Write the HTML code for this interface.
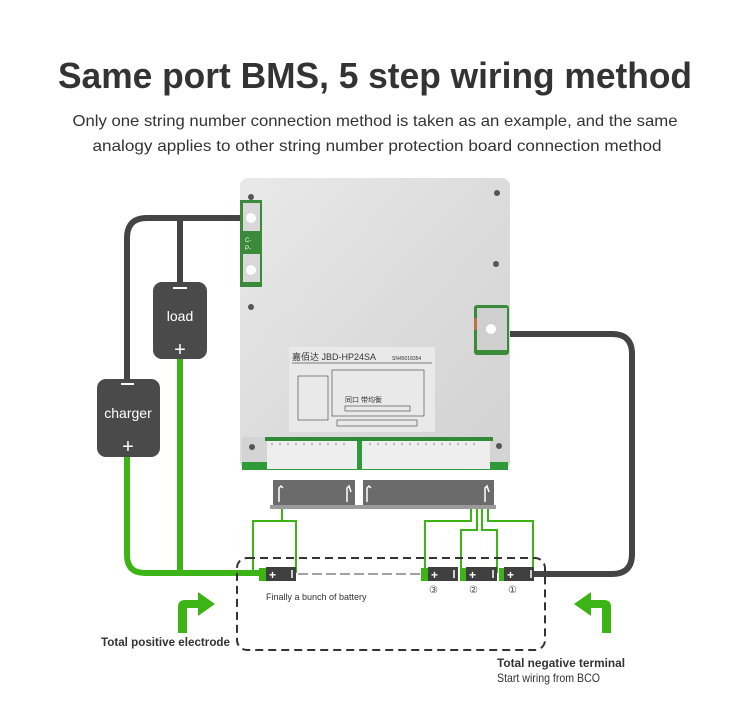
<!DOCTYPE html>
<html><head><meta charset="utf-8"><style>
html,body{margin:0;padding:0;background:#fff;}
svg{display:block;}
text{font-family:"Liberation Sans",sans-serif;}
</style></head><body>
<svg width="750" height="703" viewBox="0 0 750 703" xmlns="http://www.w3.org/2000/svg">
<defs>
<linearGradient id="al" x1="0" y1="0" x2="1" y2="1">
<stop offset="0" stop-color="#e9e9e9"/><stop offset="0.5" stop-color="#dcdcdc"/><stop offset="1" stop-color="#d2d2d2"/>
</linearGradient>
</defs>
<text x="375" y="88" text-anchor="middle" font-size="36" font-weight="bold" fill="#333" textLength="634" lengthAdjust="spacingAndGlyphs">Same port BMS, 5 step wiring method</text>
<text x="375" y="126" text-anchor="middle" font-size="16" fill="#333" textLength="605" lengthAdjust="spacingAndGlyphs">Only one string number connection method is taken as an example, and the same</text>
<text x="377" y="151" text-anchor="middle" font-size="16" fill="#333" textLength="569" lengthAdjust="spacingAndGlyphs">analogy applies to other string number protection board connection method</text>

<path d="M255,218 H147 Q127,218 127,238 V382" fill="none" stroke="#444" stroke-width="6"/>
<path d="M180,218 V284" fill="none" stroke="#444" stroke-width="6"/>
<path d="M508,334 H612 Q632,334 632,354 V554 Q632,574 612,574 H533" fill="none" stroke="#444" stroke-width="6"/>
<path d="M127,455 V555 Q127,573 145,573 H264" fill="none" stroke="#3cb416" stroke-width="6"/>
<path d="M180,357 V573" fill="none" stroke="#3cb416" stroke-width="6"/>

<rect x="240" y="178" width="270" height="292" rx="8" fill="url(#al)"/>
<rect x="240" y="200" width="22" height="87" fill="#3a8a3a"/>
<rect x="243" y="203" width="17" height="28" fill="#d8d8d8"/>
<circle cx="251" cy="218" r="5" fill="#fff"/>
<rect x="243" y="254" width="17" height="28" fill="#d8d8d8"/>
<circle cx="251" cy="270" r="5" fill="#fff"/>
<text x="245" y="242" font-size="6" fill="#fff">C-</text>
<text x="245" y="250" font-size="6" fill="#fff">P-</text>
<rect x="474" y="305" width="35" height="50" rx="3" fill="#3a8a3a"/>
<rect x="477" y="308" width="30" height="42" fill="#cfcfcf"/>
<circle cx="491" cy="329" r="5" fill="#fff"/>
<rect x="474" y="318" width="3" height="12" fill="#c0703a"/>
<rect x="242" y="437" width="266" height="33" fill="#d4d4d4"/>
<rect x="242" y="462" width="266" height="8" fill="#2f9a3a"/>
<rect x="265" y="437" width="228" height="4" fill="#2f8a3a"/>
<rect x="267" y="441" width="90" height="28" fill="#eee"/>
<rect x="362" y="441" width="128" height="28" fill="#eee"/>
<rect x="357" y="441" width="5" height="29" fill="#2f9a3a"/>
<g fill="#bbb">
<circle cx="272" cy="444" r="1.2"/><circle cx="280" cy="444" r="1.2"/><circle cx="288" cy="444" r="1.2"/><circle cx="296" cy="444" r="1.2"/><circle cx="304" cy="444" r="1.2"/><circle cx="312" cy="444" r="1.2"/><circle cx="320" cy="444" r="1.2"/><circle cx="328" cy="444" r="1.2"/><circle cx="336" cy="444" r="1.2"/><circle cx="344" cy="444" r="1.2"/>
<circle cx="370" cy="444" r="1.2"/><circle cx="378" cy="444" r="1.2"/><circle cx="386" cy="444" r="1.2"/><circle cx="394" cy="444" r="1.2"/><circle cx="402" cy="444" r="1.2"/><circle cx="410" cy="444" r="1.2"/><circle cx="418" cy="444" r="1.2"/><circle cx="426" cy="444" r="1.2"/><circle cx="434" cy="444" r="1.2"/><circle cx="442" cy="444" r="1.2"/><circle cx="450" cy="444" r="1.2"/><circle cx="458" cy="444" r="1.2"/><circle cx="466" cy="444" r="1.2"/><circle cx="474" cy="444" r="1.2"/>
</g>
<circle cx="251" cy="197" r="3" fill="#555"/><circle cx="497" cy="193" r="3" fill="#555"/>
<circle cx="496" cy="264" r="3" fill="#555"/><circle cx="251" cy="307" r="3" fill="#555"/>
<circle cx="252" cy="447" r="3" fill="#555"/><circle cx="499" cy="446" r="3" fill="#555"/>
<rect x="289" y="347" width="146" height="85" fill="#e9e9e9"/>
<text x="292" y="360" font-size="9" fill="#333">嘉佰达 JBD-HP24SA</text>
<text x="392" y="360" font-size="5" fill="#333">SN45018354</text>
<line x1="292" y1="363" x2="432" y2="363" stroke="#555" stroke-width="0.7"/>
<rect x="332" y="370" width="92" height="46" fill="none" stroke="#555" stroke-width="0.7"/>
<rect x="298" y="376" width="30" height="44" fill="none" stroke="#555" stroke-width="0.7"/>
<text x="345" y="402" font-size="7" fill="#333">同口 带均衡</text>
<rect x="345" y="406" width="65" height="5" fill="none" stroke="#555" stroke-width="0.7"/>
<rect x="337" y="420" width="80" height="6" fill="none" stroke="#555" stroke-width="0.7"/>

<rect x="273" y="480" width="82" height="26" fill="#6b6b6b"/>
<rect x="363" y="480" width="131" height="26" fill="#6b6b6b"/>
<rect x="270" y="505" width="226" height="4" fill="#9a9a9a"/>
<path d="M279,502 V488 L281,486 L283,488" stroke="#fff" stroke-width="1.5" fill="none"/>
<path d="M347,502 V488 L349,486 L351,492" stroke="#fff" stroke-width="1.5" fill="none"/>
<path d="M367,502 V488 L369,486 L371,488" stroke="#fff" stroke-width="1.5" fill="none"/>
<path d="M485,502 V488 L487,486 L489,492" stroke="#fff" stroke-width="1.5" fill="none"/>

<g fill="none" stroke="#3cb416" stroke-width="2">
<path d="M253,573 V521 H296 V573"/><path d="M282,509 V521"/>
<path d="M471,509 V521 H425 V573"/>
<path d="M477,509 V530 H461 V573"/>
<path d="M482,509 V530 H497 V573"/>
<path d="M488,509 V521 H533 V573"/>
</g>

<rect x="237" y="558" width="308" height="92" rx="10" fill="none" stroke="#333" stroke-width="2" stroke-dasharray="8,5"/>
<line x1="298" y1="574" x2="424" y2="574" stroke="#444" stroke-width="1" stroke-dasharray="10,4"/>

<g>
<rect x="259" y="568" width="8" height="13" fill="#3cb416"/>
<rect x="266" y="567" width="30" height="14" fill="#3f3f3f"/>
<rect x="421" y="568" width="8" height="13" fill="#3cb416"/>
<rect x="428" y="567" width="30" height="14" fill="#3f3f3f"/>
<rect x="460" y="568" width="8" height="13" fill="#3cb416"/>
<rect x="466" y="567" width="31" height="14" fill="#3f3f3f"/>
<rect x="499" y="568" width="7" height="13" fill="#3cb416"/>
<rect x="504" y="567" width="30" height="14" fill="#3f3f3f"/>
<g fill="#fff" font-size="12" font-weight="bold">
<text x="269" y="579">+</text><text x="431" y="579">+</text><text x="469" y="579">+</text><text x="507" y="579">+</text>
</g>
<g stroke="#fff" stroke-width="1.5">
<line x1="292" y1="570" x2="292" y2="578"/><line x1="454" y1="570" x2="454" y2="578"/>
<line x1="493" y1="570" x2="493" y2="578"/><line x1="531" y1="570" x2="531" y2="578"/>
</g>
</g>
<g font-size="10" fill="#444"><text x="429" y="593">③</text><text x="469" y="593">②</text><text x="508" y="593">①</text></g>
<text x="266" y="600" font-size="9" fill="#333">Finally a bunch of battery</text>

<rect x="153" y="282" width="54" height="77" rx="9" fill="#4a4a4a"/>
<rect x="173" y="287" width="14" height="2" fill="#fff"/>
<text x="180" y="321" text-anchor="middle" font-size="14" fill="#fff">load</text>
<text x="180" y="356" text-anchor="middle" font-size="20" fill="#fff">+</text>
<rect x="97" y="379" width="63" height="78" rx="9" fill="#4a4a4a"/>
<rect x="121" y="383" width="13" height="2" fill="#fff"/>
<text x="128" y="418" text-anchor="middle" font-size="14" fill="#fff">charger</text>
<text x="128" y="453" text-anchor="middle" font-size="20" fill="#fff">+</text>

<path d="M178,633 V607 Q178,600 185,600 H198 V592 L215,604 L198,616 V608 H187 V633 Z" fill="#3cb416"/>
<path d="M611,633 V607 Q611,600 604,600 H591 V592 L574,604 L591,616 V608 H602 V633 Z" fill="#3cb416"/>

<text x="101" y="646" font-size="12" font-weight="bold" fill="#333" textLength="129" lengthAdjust="spacingAndGlyphs">Total positive electrode</text>
<text x="497" y="667" font-size="12" font-weight="bold" fill="#333" textLength="128" lengthAdjust="spacingAndGlyphs">Total negative terminal</text>
<text x="497" y="682" font-size="12" fill="#333" textLength="103" lengthAdjust="spacingAndGlyphs">Start wiring from BCO</text>
</svg>
</body></html>
